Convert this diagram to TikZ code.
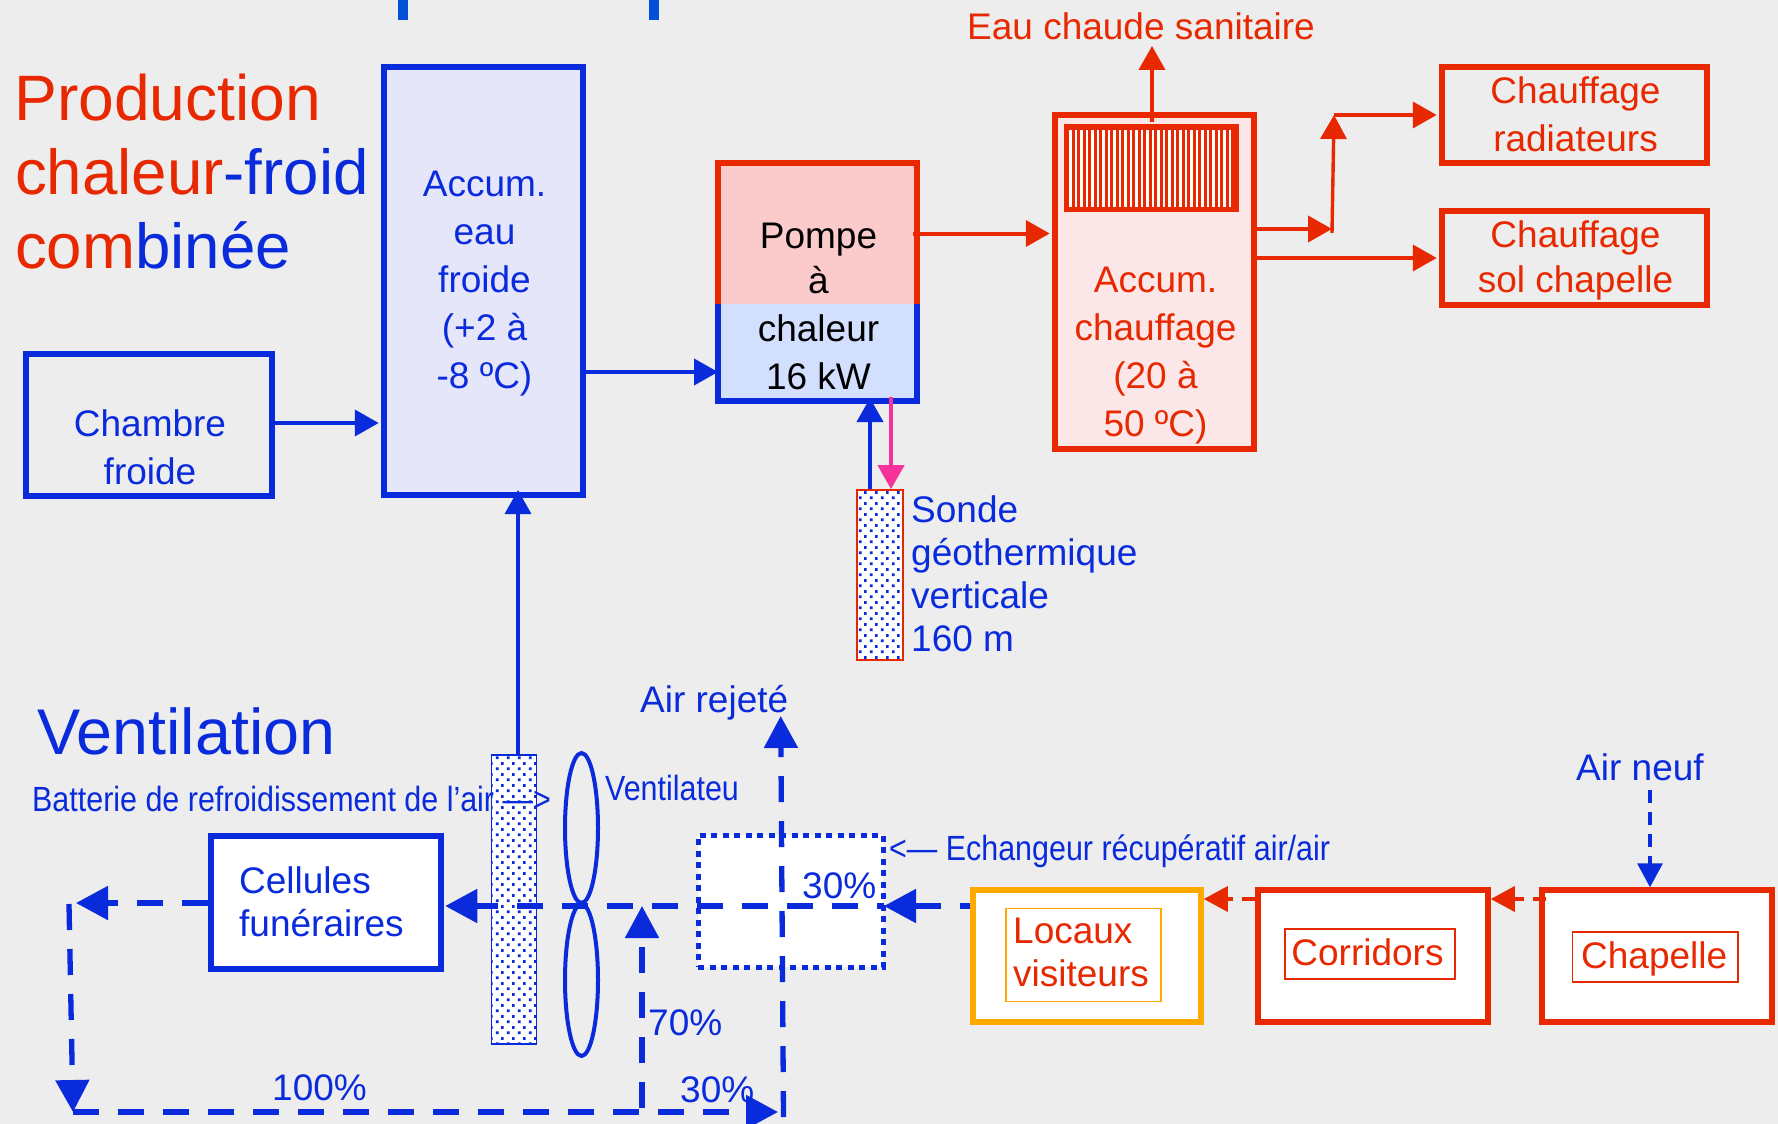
\documentclass[tikz,border=0pt]{standalone}
\usepackage{fontspec}
\setmainfont{Liberation Sans}
\usetikzlibrary{arrows.meta,shapes.geometric,patterns}
\definecolor{rouge}{HTML}{E82800}
\definecolor{bleu}{HTML}{0A2BDC}
\definecolor{bleuvif}{HTML}{0050D8}
\definecolor{rose}{HTML}{F5339A}
\definecolor{orange}{HTML}{FFAA00}
\definecolor{fond}{HTML}{EDEDED}
\definecolor{pchaud}{HTML}{FBCBCB}
\definecolor{pfroid}{HTML}{D3DFFF}
\definecolor{afroid}{HTML}{E5E6FA}
\definecolor{achaud}{HTML}{FBE7E7}
\pgfdeclarepatternformonly{geodots}{\pgfqpoint{0pt}{0pt}}{\pgfqpoint{11pt}{11.2pt}}{\pgfqpoint{11pt}{11.2pt}}{%
  \pgfpathrectangle{\pgfqpoint{1pt}{1pt}}{\pgfqpoint{2.8pt}{2.8pt}}%
  \pgfpathrectangle{\pgfqpoint{6.5pt}{6.6pt}}{\pgfqpoint{2.8pt}{2.8pt}}%
  \pgfusepath{fill}}
\newcommand{\txt}{\fontsize{37}{48}\selectfont}
\begin{document}
\begin{tikzpicture}[x=1pt, y=-1pt, > = Triangle]
    \tikzstyle{boite}=[rectangle, draw, line width=5.5pt, inner sep=0pt, align=center, font=\txt]
    \tikzstyle{cadre}=[rectangle, draw, line width=1.6pt, inner sep=0pt, fill=white, font=\txt, text=rouge]
    \tikzstyle{titre}=[anchor=base west, inner sep=0pt, font=\fontsize{63.6}{74}\selectfont]
    \tikzstyle{legende}=[anchor=base west, inner sep=0pt, font=\txt, text=bleu]
    \tikzstyle{etroit}=[anchor=base west, inner sep=0pt, font=\fontsize{35}{42}\selectfont, text=bleu, xscale=.87]
    \tikzstyle{pales}=[ellipse, draw=bleu, line width=4pt, inner sep=0pt, minimum width=33pt]
    \tikzstyle{sonde}=[rectangle, draw, line width=1.6pt, fill=white, inner sep=0pt, postaction={pattern=geodots, pattern color=bleu}]
    \tikzstyle{fleche}=[line width=4pt, shorten >=2.5pt, -{Triangle[length=24pt,width=26pt]}]
    \tikzstyle{flux}=[line width=5.3pt, draw=bleu, dash pattern=on 26pt off 19pt, -{Triangle[length=32pt,width=33pt]}]
    \tikzstyle{fluxfin}=[line width=3.4pt, dash pattern=on 13pt off 9pt, -{Triangle[length=24pt,width=25pt]}]

    \useasboundingbox[fill=fond] (0,0) rectangle (1778,1124);

    % Traits du haut
    \fill[bleuvif] (398,0) rectangle (408,20);
    \fill[bleuvif] (649,0) rectangle (659,20);

    % Production
    \node[boite, draw=bleu, fill=afroid, minimum width=199pt, minimum height=428pt] (accumf) at (483.5,281) {};
    \node[boite, draw=bleu, minimum width=246pt, minimum height=142pt] (chambre) at (149,425) {};
    \node[inner sep=0pt, outer sep=0pt, fill=pchaud, minimum width=199pt, minimum height=141pt] (pompeh) at (817.5,233.5) {};
    \node[inner sep=0pt, outer sep=0pt, fill=pfroid, minimum width=199pt, minimum height=97pt] (pompeb) at (817.5,352.5) {};
    \draw[rouge, line width=5.5pt] (pompeh.south west) |- (pompeh.north east) -- (pompeh.south east);
    \draw[bleu, line width=5.5pt] (pompeb.north west) |- (pompeb.south east) -- (pompeb.north east);
    \node[inner sep=0pt, align=center, font=\txt, minimum width=204.5pt, minimum height=243.5pt] (pompe) at (818.5,306) {Pompe\\[-3pt]à\\chaleur\\16 kW};
    \node[boite, draw=rouge, fill=achaud, minimum width=199pt, minimum height=334pt] (accumc) at (1154.5,282) {};
    \node[inner sep=0pt, fill=rouge, minimum width=175pt, minimum height=88pt] (grille) at (1151.5,168) {};
    \foreach \i in {0,...,14} {
        \fill[white] (1069+11*\i,130) rectangle +(3,77);
        \fill[white] (1075+11*\i,130) rectangle +(2,77);
    }
    \node[boite, draw=rouge, text=rouge, minimum width=265pt, minimum height=96pt] (radiateurs) at (1574.5,115) {};
    \node[boite, draw=rouge, text=rouge, minimum width=265pt, minimum height=94pt] (plancher) at (1574.5,258) {};
    \node[sonde, draw=rouge, minimum width=46pt, minimum height=170pt] (geo) at (880,575) {};

    % Ventilation
    \node[sonde, draw=bleu, minimum width=45pt, minimum height=289pt] (batterie) at (514,899.5) {};
    \node[pales, minimum height=150pt] (paleh) at (581.5,828) {};
    \node[pales, minimum height=152pt] (paleb) at (581.5,980) {};
    \node[boite, draw=bleu, fill=white, minimum width=230pt, minimum height=133pt] (cellules) at (326,902.5) {};
    \node[rectangle, draw=bleu, line width=5pt, fill=white, dash pattern=on 6pt off 5.5pt, minimum width=185pt, minimum height=132pt] (echangeur) at (790.5,901) {};
    \node[boite, draw=orange, fill=white, minimum width=228pt, minimum height=132pt] (locaux) at (1087,956) {};
    \node[boite, draw=rouge, fill=white, minimum width=230pt, minimum height=132pt] (corridors) at (1373,956) {};
    \node[boite, draw=rouge, fill=white, minimum width=230pt, minimum height=132pt] (chapelle) at (1657,956) {};
    \node[cadre, draw=orange, minimum width=155pt, minimum height=93pt] (locauxt) at (1083.5,955) {};
    \node[inner sep=0pt, align=left, font=\fontsize{37}{43}\selectfont, text=rouge, anchor=west] (locauxm) at (1013,952) {Locaux\\visiteurs};
    \node[cadre, draw=rouge, align=center, minimum width=170pt, minimum height=50pt] (corridorst) at (1370,954) {\kern-5pt\raisebox{2pt}[\height][\depth]{Corridors}};
    \node[cadre, draw=rouge, align=center, minimum width=165.5pt, minimum height=50pt] (chapellet) at (1655.2,957) {\kern-2pt\raisebox{-1.5pt}[\height][\depth]{Chapelle}};

    % Points de passage
    \coordinate (nchambre) at (300,423);
    \coordinate (nfroid) at (600,372);
    \coordinate (nradia) at (1332,229);
    \coordinate (nmonte) at (1334,115);
    \coordinate (nsol) at (1300,258);
    \coordinate (nbleu) at (870,398);
    \coordinate (nrose) at (891,397);
    \coordinate (neau) at (1152,122);
    \coordinate (nsan) at (1152,46);
    \coordinate (nbat) at (518,490);
    \coordinate (njonc) at (884,906);
    \coordinate (ngh) at (69,904);
    \coordinate (ngtip) at (76,903);
    \coordinate (ngb) at (73,1112);
    \coordinate (nbas) at (778,1112);
    \coordinate (nret) at (642,906);
    \coordinate (nretb) at (642,1108);
    \coordinate (nrej) at (780.7,716);
    \coordinate (nrejb) at (783.5,1117);
    \coordinate (nneuf) at (1650,790);
    \coordinate (nrouge) at (1300,899);

    % Liaisons
    \draw[fleche, bleu] (nchambre -| chambre.east) -- (nchambre -| accumf.west);
    \draw[fleche, bleu, shorten >=0pt] (nfroid -| accumf.east) -- ([xshift=2pt]nfroid -| pompe.west);
    \draw[fleche, bleu, shorten >=0pt] (geo.north -| nbleu) -- (nbleu);
    \draw[fleche, rose, shorten >=0pt] (nrose) -- (geo.north -| nrose);
    \draw[fleche, rouge] ([xshift=-4pt]pompeh.east) -- (pompeh.east -| accumc.west);
    \draw[fleche, rouge, shorten >=0pt] (neau) -- (nsan);
    \draw[fleche, rouge, shorten >=0pt] (nradia -| accumc.east) -- (nradia);
    \draw[fleche, rouge, line width=3.4pt, shorten >=0pt] (1332,233) -- (nmonte);
    \draw[fleche, rouge] (nmonte) -- (nmonte -| radiateurs.west);
    \draw[fleche, rouge] (nsol -| accumc.east) -- (nsol -| plancher.west);
    \draw[fleche, bleu, line width=3.4pt, shorten >=0pt] (batterie.north -| nbat) -- (nbat);

    \draw[flux, dash phase=19pt, shorten >=1.5pt] (njonc) -- (njonc -| cellules.east);
    \draw[flux, dash phase=16pt] (njonc -| locaux.west) -- (njonc);
    \draw[flux] (ngtip -| cellules.west) -- (ngtip);
    \draw[flux] (ngh) -- (ngb);
    \draw[flux] (ngb) -- (nbas);
    \draw[flux] (nretb) -- (nret);
    \draw[flux] (nrejb) -- (nrej);
    \draw[fluxfin, bleu] (nneuf) -- (chapelle.north -| nneuf);
    \draw[fluxfin, rouge] (nrouge -| corridors.west) -- (nrouge -| locaux.east);
    \draw[fluxfin, rouge] ([xshift=7pt]nrouge -| chapelle.west) -- (nrouge -| corridors.east);

    % Textes
    \node[titre, text=rouge, font=\fontsize{64.2}{74}\selectfont] (prod) at (14,121) {Production};
    \node[titre, text=rouge] (chal) at (15,194.5) {chaleur\textcolor{bleu}{-froid}};
    \node[titre, text=rouge] (comb) at (15,268.5) {com\textcolor{bleu}{binée}};
    \node[titre, text=bleu, font=\fontsize{64.6}{74}\selectfont] (venti) at (37,754) {Ventilation};
    \node[inner sep=0pt, align=center, font=\txt, text=bleu] (accumft) at (484.5,284) {Accum.\\eau\\froide\\(+2 à\\-8 ºC)};
    \node[inner sep=0pt, align=center, font=\txt, text=bleu] (chambret) at (150,447) {Chambre\\froide};
    \node[inner sep=0pt, align=center, font=\txt, text=rouge] (accumct) at (1155.5,355.5) {Accum.\\chauffage\\(20 à\\50 ºC)};
    \node[inner sep=0pt, align=center, font=\txt, text=rouge] (radiat) at (1575.5,114) {Chauffage\\radiateurs};
    \node[inner sep=0pt, align=center, font=\fontsize{37}{45}\selectfont, text=rouge] (plancht) at (1575.5,260) {Chauffage\\sol chapelle};
    \node[inner sep=0pt, align=left, font=\fontsize{37}{43}\selectfont, text=bleu, anchor=north west] (geot) at (911,495) {Sonde\\géothermique\\verticale\\160 m};
    \node[inner sep=0pt, align=left, font=\fontsize{37}{43}\selectfont, text=bleu, anchor=west] (cellt) at (239,902) {Cellules\\funéraires};
    \node[legende, text=rouge] (eauchaude) at (967,40) {Eau chaude sanitaire};
    \node[legende] (rejete) at (640,712) {Air rejeté};
    \node[legende] (neuf) at (1576,780) {Air neuf};
    \node[etroit] (batt) at (32,811) {Batterie de refroidissement de l'air —>};
    \node[etroit] (ventl) at (605,800) {Ventilateu};
    \node[etroit] (ech) at (889,860) {<— Echangeur récupératif air/air};
    \node[legende] (pa) at (802,898) {30\%};
    \node[legende] (pb) at (648,1035) {70\%};
    \node[legende] (pc) at (272,1100) {100\%};
    \node[legende] (pd) at (680,1102) {30\%};
\end{tikzpicture}
\end{document}
